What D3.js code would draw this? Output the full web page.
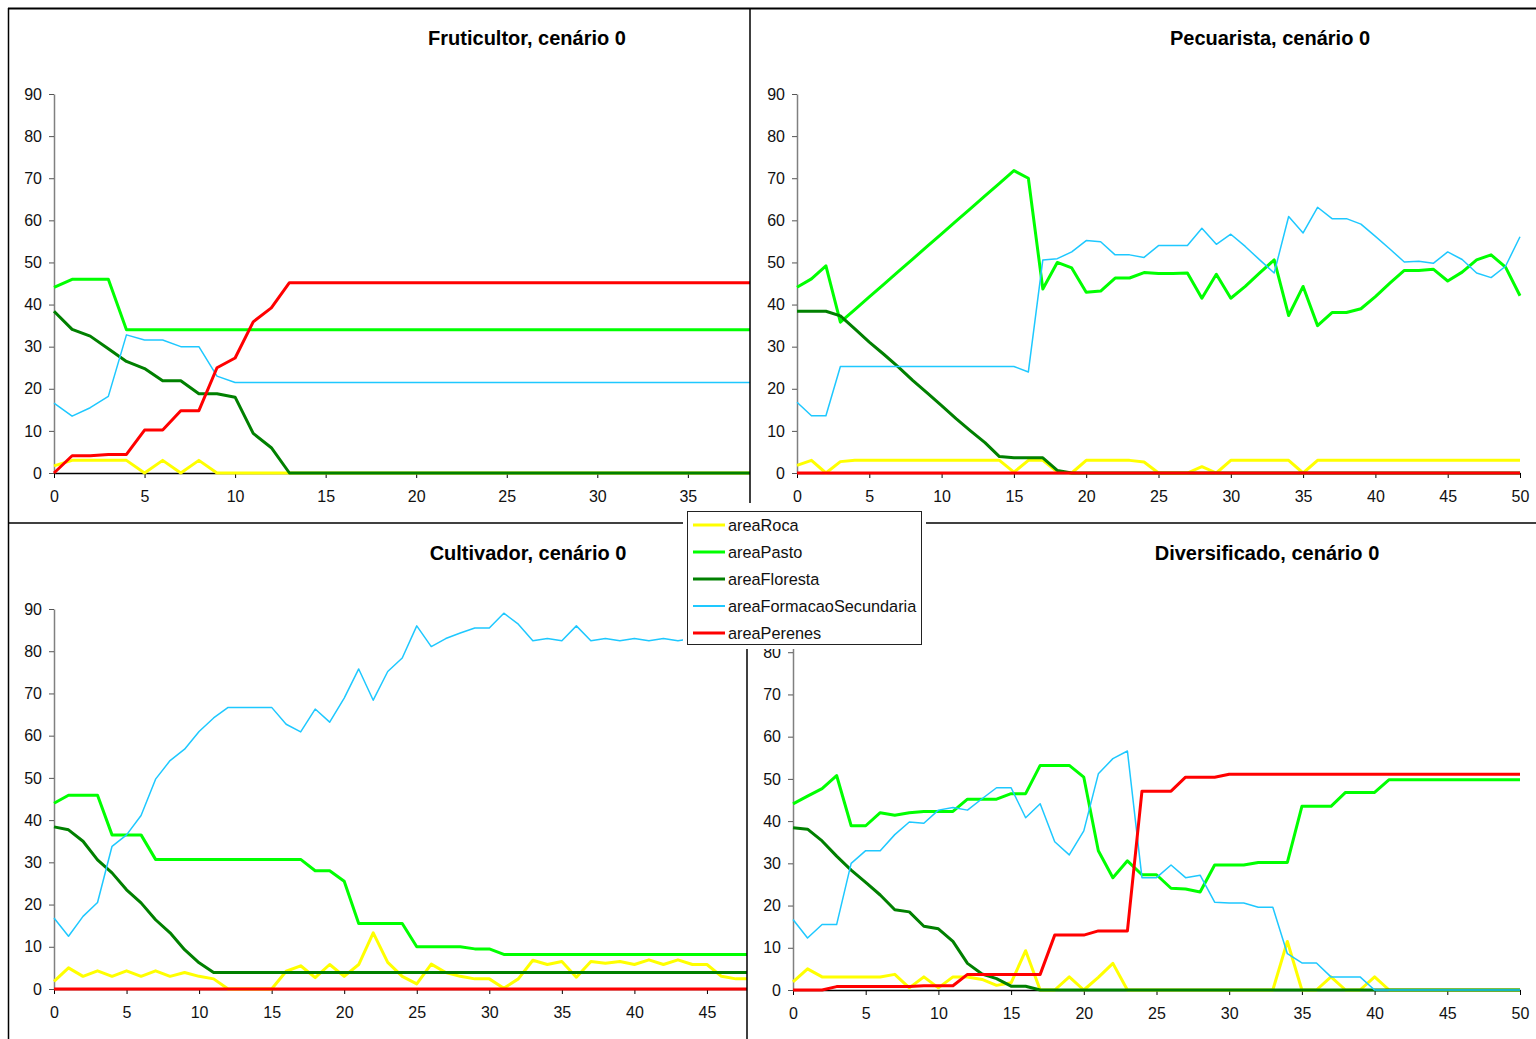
<!DOCTYPE html>
<html>
<head>
<meta charset="utf-8">
<script src="https://cdn.jsdelivr.net/npm/d3@7"></script>
<style>
  body { margin: 0; background: #fff; }
  text { font-family: "Liberation Sans", Arial, sans-serif; }
</style>
</head>
<body>
<script>
// time steps 0..50
const steps = d3.range(0, 51);
const seriesNames = ["areaRoca", "areaPasto", "areaFloresta", "areaFormacaoSecundaria", "areaPerenes"];

// Fruticultor
const frutRoca = [1.7,3,3,3,3,0,3,0,3,0,0,0,0,0,0,0,0,0,0,0,0,0,0,0,0,0,0,0,0,0,0,0,0,0,0,0,0,0,0,0,0,0,0,0,0,0,0,0,0,0,0];
const frutPasto = [44.1,46,46,46,34,34,34,34,34,34,34,34,34,34,34,34,34,34,34,34,34,34,34,34,34,34,34,34,34,34,34,34,34,34,34,34,34,34,34,34,34,34,34,34,34,34,34,34,34,34,34];
const frutFloresta = [38.4,34.1,32.5,29.5,26.5,24.8,21.9,21.9,18.8,18.8,18,9.4,6,0,0,0,0,0,0,0,0,0,0,0,0,0,0,0,0,0,0,0,0,0,0,0,0,0,0,0,0,0,0,0,0,0,0,0,0,0,0];
const frutFormacao = [16.6,13.5,15.5,18.2,32.8,31.6,31.6,30,30,23,21.5,21.5,21.5,21.5,21.5,21.5,21.5,21.5,21.5,21.5,21.5,21.5,21.5,21.5,21.5,21.5,21.5,21.5,21.5,21.5,21.5,21.5,21.5,21.5,21.5,21.5,21.5,21.5,21.5,21.5,21.5,21.5,21.5,21.5,21.5,21.5,21.5,21.5,21.5,21.5,21.5];
const frutPerenes = [0,4.1,4.1,4.4,4.4,10.2,10.2,14.8,14.8,25,27.3,35.9,39.2,45.2,45.2,45.2,45.2,45.2,45.2,45.2,45.2,45.2,45.2,45.2,45.2,45.2,45.2,45.2,45.2,45.2,45.2,45.2,45.2,45.2,45.2,45.2,45.2,45.2,45.2,45.2,45.2,45.2,45.2,45.2,45.2,45.2,45.2,45.2,45.2,45.2,45.2];

// Pecuarista
const pecuRoca = [1.8,3,0,2.7,3,3,3,3,3,3,3,3,3,3,3,0.2,3,3,0.3,0,3,3,3,3,2.6,0,0,0,1.5,0,3,3,3,3,3,0,3,3,3,3,3,3,3,3,3,3,3,3,3,3,3];
const pecuPasto = [44.1,46.1,49.2,35.8,38.8,41.8,44.8,47.8,50.8,53.8,56.8,59.8,62.8,65.8,68.8,71.8,70,43.7,50,48.7,42.9,43.2,46.3,46.3,47.6,47.4,47.4,47.5,41.5,47.2,41.5,44.3,47.5,50.6,37.4,44.3,35,38.1,38.1,39,41.9,45.1,48.1,48.1,48.4,45.6,47.7,50.6,51.8,48.9,42.1];
const pecuFloresta = [38.4,38.4,38.4,37.3,34.2,31.1,28.2,25.2,22,19,16,12.9,10,7.2,3.9,3.6,3.6,3.6,0.6,0,0,0,0,0,0,0,0,0,0,0,0,0,0,0,0,0,0,0,0,0,0,0,0,0,0,0,0,0,0,0,0];
const pecuFormacao = [16.8,13.6,13.6,25.3,25.3,25.3,25.3,25.3,25.3,25.3,25.3,25.3,25.3,25.3,25.3,25.3,24,50.6,50.9,52.5,55.2,54.9,51.8,51.8,51.2,54,54,54,58.1,54.3,56.7,53.8,50.6,47.5,60.9,57,63.1,60.4,60.4,59.1,56.2,53.2,50.1,50.3,49.8,52.5,50.7,47.5,46.4,49.1,56.1];
const pecuPerenes = [0,0,0,0,0,0,0,0,0,0,0,0,0,0,0,0,0,0,0,0,0,0,0,0,0,0,0,0,0,0,0,0,0,0,0,0,0,0,0,0,0,0,0,0,0,0,0,0,0,0,0];

// Cultivador
const cultRoca = [1.8,5,3,4.3,3,4.3,3,4.3,3,3.9,3,2.4,0,0,0,0,4.2,5.5,2.7,5.8,3,5.8,13.3,6.3,3,1.2,5.9,3.9,3,2.4,2.4,0.2,2.4,6.8,5.8,6.5,2.8,6.5,6.1,6.5,5.8,6.9,5.8,6.9,5.8,5.8,3,2.4,2.4,2.4,2.4];
const cultPasto = [44,45.9,45.9,45.9,36.5,36.5,36.5,30.7,30.7,30.7,30.7,30.7,30.7,30.7,30.7,30.7,30.7,30.7,28,28,25.5,15.5,15.5,15.5,15.5,10,10,10,10,9.5,9.5,8.2,8.2,8.2,8.2,8.2,8.2,8.2,8.2,8.2,8.2,8.2,8.2,8.2,8.2,8.2,8.2,8.2,8.2,8.2,8.2];
const cultFloresta = [38.4,37.7,35,30.6,27.5,23.5,20.4,16.4,13.3,9.3,6.2,3.9,3.9,3.9,3.9,3.9,3.9,3.9,3.9,3.9,3.9,3.9,3.9,3.9,3.9,3.9,3.9,3.9,3.9,3.9,3.9,3.9,3.9,3.9,3.9,3.9,3.9,3.9,3.9,3.9,3.9,3.9,3.9,3.9,3.9,3.9,3.9,3.9,3.9,3.9,3.9];
const cultFormacao = [16.8,12.5,17.2,20.5,33.8,36.5,41.1,49.7,54.1,56.8,61,64.2,66.7,66.7,66.7,66.7,62.7,60.9,66.3,63.2,68.9,75.8,68.4,75.2,78.4,86,81.1,83,84.3,85.5,85.5,89,86.4,82.5,83,82.5,86,82.5,83,82.5,83,82.5,83,82.5,83,82.5,83,82.5,83,82.5,83];
const cultPerenes = [0,0,0,0,0,0,0,0,0,0,0,0,0,0,0,0,0,0,0,0,0,0,0,0,0,0,0,0,0,0,0,0,0,0,0,0,0,0,0,0,0,0,0,0,0,0,0,0,0,0,0];

// Diversificado
const diveRoca = [1.9,5,3.1,3.1,3.1,3.1,3.1,3.7,0.5,3.1,0.5,3.1,3.1,2.5,1.1,1.7,9.3,0,0,3.1,0,3,6.3,0,0,0,0,0,0,0,0,0,0,0,11.5,0,0,3.1,0,0,3.1,0,0,0,0,0,0,0,0,0,0];
const divePasto = [44.1,45.9,47.7,50.8,38.9,38.9,42,41.4,42,42.3,42.3,42.3,45.2,45.2,45.2,46.5,46.5,53.2,53.2,53.2,50.4,33,26.6,30.6,27.3,27.3,24.1,23.9,23.2,29.6,29.6,29.6,30.2,30.2,30.2,43.5,43.5,43.5,46.8,46.8,46.8,49.8,49.8,49.8,49.8,49.8,49.8,49.8,49.8,49.8,49.8];
const diveFloresta = [38.4,38.1,35.3,31.7,28.4,25.5,22.5,19,18.5,15.1,14.5,11.5,6.3,3.8,2.7,0.9,0.9,0,0,0,0,0,0,0,0,0,0,0,0,0,0,0,0,0,0,0,0,0,0,0,0,0,0,0,0,0,0,0,0,0,0];
const diveFormacao = [16.7,12.3,15.5,15.5,30,33,33,36.8,39.8,39.5,42.6,43.2,42.6,45.3,47.9,47.9,40.8,44.1,35.1,32,37.7,51.2,54.8,56.6,26.6,26.6,29.6,26.6,27.2,20.8,20.6,20.6,19.6,19.6,8.6,6.4,6.4,3.1,3.1,3.1,0,0,0,0,0,0,0,0,0,0,0];
const divePerenes = [0,0,0,0.8,0.8,0.8,0.8,0.8,0.8,1,1,1,3.7,3.7,3.7,3.7,3.7,3.7,13,13,13,14,14,14,47.1,47.1,47.1,50.4,50.4,50.4,51.1,51.1,51.1,51.1,51.1,51.1,51.1,51.1,51.1,51.1,51.1,51.1,51.1,51.1,51.1,51.1,51.1,51.1,51.1,51.1,51.1];

const colors = {
  areaRoca: "#ffff00",
  areaPasto: "#00ff00",
  areaFloresta: "#008000",
  areaFormacaoSecundaria: "#1ec8ff",
  areaPerenes: "#ff0000"
};
const widths = {
  areaRoca: 3,
  areaPasto: 3,
  areaFloresta: 3,
  areaFormacaoSecundaria: 1.5,
  areaPerenes: 3
};

const panels = [
  { title: "Fruticultor, cenário 0", series: [frutRoca, frutPasto, frutFloresta, frutFormacao, frutPerenes],
    frame: [8, 8, 750, 523], xr: [54, 959.5], yr: [473, 94], titleX: 527, titleY: 45 },
  { title: "Pecuarista, cenário 0", series: [pecuRoca, pecuPasto, pecuFloresta, pecuFormacao, pecuPerenes],
    frame: [750, 8, 1536, 523], xr: [797, 1520], yr: [473, 94], titleX: 1270, titleY: 45 },
  { title: "Cultivador, cenário 0", series: [cultRoca, cultPasto, cultFloresta, cultFormacao, cultPerenes],
    frame: [8, 523, 747, 1039], xr: [54, 779.5], yr: [989, 609], titleX: 528, titleY: 560 },
  { title: "Diversificado, cenário 0", series: [diveRoca, divePasto, diveFloresta, diveFormacao, divePerenes],
    frame: [747, 523, 1536, 1039], xr: [793, 1520], yr: [990, 610], titleX: 1267, titleY: 560 }
];

const width = 1536, height = 1039;

const svg = d3.select("body")
  .append("svg")
  .attr("width", width)
  .attr("height", height);

const defs = svg.append("defs");

panels.forEach((p, i) => {
  const [fx0, fy0, fx1, fy1] = p.frame;

  defs.append("clipPath")
    .attr("id", "clip" + i)
    .append("rect")
    .attr("x", fx0)
    .attr("y", fy0)
    .attr("width", fx1 - fx0)
    .attr("height", fy1 - fy0);

  const g = svg.append("g").attr("clip-path", `url(#clip${i})`);

  g.append("rect")
    .attr("x", fx0)
    .attr("y", fy0)
    .attr("width", fx1 - fx0)
    .attr("height", fy1 - fy0)
    .attr("fill", "#fff");

  g.append("text")
    .attr("x", p.titleX)
    .attr("y", p.titleY)
    .attr("text-anchor", "middle")
    .style("font-size", "20px")
    .style("font-weight", "bold")
    .text(p.title);

  const x = d3.scaleLinear().domain([0, 50]).range(p.xr);
  const y = d3.scaleLinear().domain([0, 90]).range(p.yr);

  const yAxis = g.append("g")
    .attr("transform", `translate(${p.xr[0]},0)`)
    .call(d3.axisLeft(y).tickValues(d3.range(0, 91, 10)).tickSize(5).tickSizeOuter(0).tickPadding(7));
  yAxis.select(".domain").attr("stroke", "#808080").attr("stroke-width", 1.5);
  yAxis.selectAll(".tick line").attr("stroke", "#555");
  yAxis.selectAll("text").style("font-size", "16px").attr("fill", "#111");

  // only the ticks that fall inside this chart's frame (the rest is hidden by the next chart)
  const xTicks = d3.range(0, 51, 5).filter(v => x(v) <= fx1 - 8);
  const xAxis = g.append("g")
    .attr("transform", `translate(0,${p.yr[0]})`)
    .call(d3.axisBottom(x).tickValues(xTicks).tickSize(5).tickSizeOuter(0).tickPadding(13));
  xAxis.select(".domain").attr("stroke", "#000").attr("stroke-width", 1.5);
  xAxis.selectAll(".tick line").attr("stroke", "#000");
  xAxis.selectAll("text").style("font-size", "16px").attr("fill", "#111");

  const line = d3.line()
    .x((d, j) => x(steps[j]))
    .y(d => y(d));

  p.series.forEach((vals, k) => {
    const name = seriesNames[k];
    g.append("path")
      .datum(vals)
      .attr("fill", "none")
      .attr("stroke", colors[name])
      .attr("stroke-width", widths[name])
      .attr("stroke-linejoin", "round")
      .attr("d", line);
  });
});

// chart frames
const frameLines = [
  [8, 8.5, 1536, 8.5, 2],
  [8.5, 8, 8.5, 1039, 1.5],
  [750, 8, 750, 523, 1.5],
  [747, 523, 747, 1039, 1.5],
  [8, 523, 1536, 523, 1.5]
];
svg.append("g")
  .selectAll("line")
  .data(frameLines)
  .enter()
  .append("line")
  .attr("x1", d => d[0])
  .attr("y1", d => d[1])
  .attr("x2", d => d[2])
  .attr("y2", d => d[3])
  .attr("stroke", "#000")
  .attr("stroke-width", d => d[4]);

// legend
const legend = svg.append("g");
legend.append("rect")
  .attr("x", 683).attr("y", 503)
  .attr("width", 243).attr("height", 146)
  .attr("fill", "#fff");
legend.append("rect")
  .attr("x", 687.5).attr("y", 511.5)
  .attr("width", 234).attr("height", 133)
  .attr("fill", "#fff")
  .attr("stroke", "#222")
  .attr("stroke-width", 1);

const legendItem = legend.selectAll(".item")
  .data(seriesNames)
  .enter()
  .append("g")
  .attr("class", "item")
  .attr("transform", (d, i) => `translate(0,${525 + i * 27})`);

legendItem.append("line")
  .attr("x1", 693).attr("x2", 725)
  .attr("stroke", d => colors[d])
  .attr("stroke-width", d => (d === "areaFormacaoSecundaria" ? 2 : 3));

legendItem.append("text")
  .attr("x", 728)
  .attr("y", 5.5)
  .style("font-size", "16.3px")
  .attr("fill", "#111")
  .text(d => d);
</script>
</body>
</html>
